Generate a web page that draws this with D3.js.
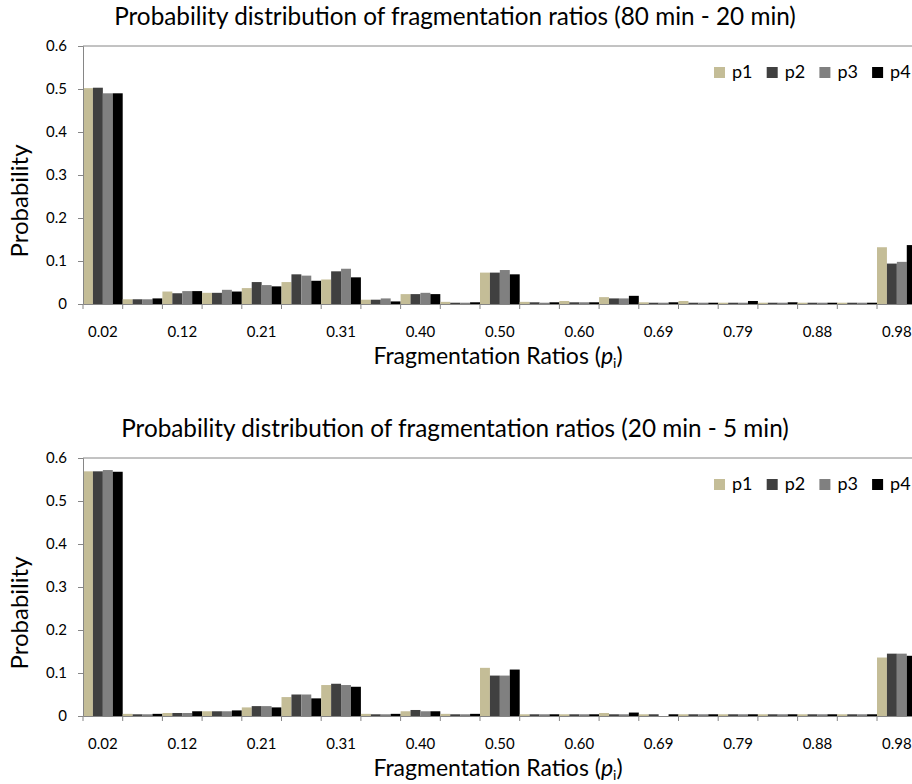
<!DOCTYPE html>
<html>
<head>
<meta charset="utf-8">
<script src="https://cdn.jsdelivr.net/npm/d3@7"></script>
<style>
  body { margin: 0; background: #fff; }
  svg { display: block; font-family: Lato, "Open Sans", sans-serif; }
</style>
</head>
<body>
<div id="chart"></div>
<script>
// fragmentation ratio bins (only every other one gets a label)
let categories = ["0.02", "0.07", "0.12", "0.17", "0.21", "0.26", "0.31", "0.36", "0.40", "0.45",
                  "0.50", "0.55", "0.60", "0.64", "0.69", "0.74", "0.79", "0.83", "0.88", "0.93", "0.98"];
let seriesNames = ["p1", "p2", "p3", "p4"];
let colors = ["#c4bd97", "#404040", "#808080", "#000000"];
let yTicks = [0, 0.1, 0.2, 0.3, 0.4, 0.5, 0.6];

// 80 min - 20 min
let topP1 = [0.502, 0.011, 0.029, 0.026, 0.037, 0.051, 0.057, 0.010, 0.023, 0.005, 0.073, 0.005, 0.007, 0.016, 0.004, 0.007, 0.003, 0.003, 0.003, 0.003, 0.132];
let topP2 = [0.503, 0.011, 0.025, 0.026, 0.051, 0.069, 0.076, 0.010, 0.023, 0.003, 0.073, 0.004, 0.004, 0.013, 0.003, 0.003, 0.003, 0.003, 0.003, 0.003, 0.094];
let topP3 = [0.490, 0.011, 0.030, 0.033, 0.044, 0.066, 0.082, 0.013, 0.026, 0.003, 0.079, 0.003, 0.004, 0.013, 0.003, 0.003, 0.003, 0.003, 0.003, 0.003, 0.098];
let topP4 = [0.490, 0.013, 0.030, 0.029, 0.041, 0.054, 0.062, 0.006, 0.023, 0.004, 0.069, 0.004, 0.004, 0.019, 0.004, 0.003, 0.007, 0.004, 0.003, 0.003, 0.137];

// 20 min - 5 min
let botP1 = [0.569, 0.005, 0.007, 0.011, 0.020, 0.044, 0.072, 0.005, 0.011, 0.005, 0.112, 0.004, 0.004, 0.007, 0.004, 0.004, 0.004, 0.004, 0.004, 0.004, 0.136];
let botP2 = [0.569, 0.004, 0.007, 0.011, 0.023, 0.050, 0.075, 0.004, 0.014, 0.004, 0.094, 0.004, 0.004, 0.004, 0.004, 0.004, 0.004, 0.004, 0.004, 0.004, 0.145];
let botP3 = [0.572, 0.004, 0.007, 0.011, 0.023, 0.050, 0.072, 0.004, 0.011, 0.004, 0.094, 0.004, 0.004, 0.004, 0.000, 0.004, 0.004, 0.004, 0.004, 0.004, 0.145];
let botP4 = [0.568, 0.005, 0.011, 0.013, 0.020, 0.041, 0.068, 0.005, 0.011, 0.005, 0.108, 0.004, 0.004, 0.008, 0.004, 0.004, 0.004, 0.004, 0.004, 0.004, 0.140];

let svgWidth = 912;
let svgHeight = 784;
let axisColor = "#868686";

let svg = d3.select("#chart")
    .append("svg")
    .attr("width", svgWidth)
    .attr("height", svgHeight);

function drawPanel(offsetY, title, series) {

    let panel = svg.append("g")
        .attr("transform", `translate(0, ${offsetY})`);

    // plot runs a bit past the right edge, like the original crop
    let x = d3.scaleBand()
        .domain(categories)
        .range([83, 83 + categories.length * 39.7])
        .padding(0);

    let xInner = d3.scaleBand()
        .domain(seriesNames)
        .range([0, x.bandwidth()])
        .padding(0);

    let y = d3.scaleLinear()
        .domain([0, 0.6])
        .range([304, 46]);

    let bars = [];
    categories.forEach(function(c, i) {
        seriesNames.forEach(function(s, j) {
            bars.push({cat: c, name: s, value: series[j][i], color: colors[j]});
        });
    });

    panel.append("g")
        .selectAll("rect")
        .data(bars)
        .enter()
        .append("rect")
        .attr("x", d => x(d.cat) + xInner(d.name))
        .attr("y", d => y(d.value))
        .attr("width", xInner.bandwidth())
        .attr("height", d => y(0) - y(d.value))
        .attr("fill", d => d.color);

    // top border of the plot area
    panel.append("line")
        .attr("x1", x.range()[0])
        .attr("x2", x.range()[1])
        .attr("y1", y(0.6))
        .attr("y2", y(0.6))
        .attr("stroke", axisColor);

    let yAxis = d3.axisLeft(y)
        .tickValues(yTicks)
        .tickSize(5)
        .tickPadding(11)
        .tickFormat(d => d === 0 ? "0" : d3.format(".1f")(d));

    let yG = panel.append("g")
        .attr("transform", `translate(${x.range()[0]}, 0)`)
        .call(yAxis);

    let xAxis = d3.axisBottom(x)
        .tickValues(categories.filter((d, i) => i % 2 === 0))
        .tickSize(0)
        .tickSizeOuter(0)
        .tickPadding(22);

    let xG = panel.append("g")
        .attr("transform", `translate(0, ${y(0)})`)
        .call(xAxis);

    // tick marks sit between the bins
    xG.selectAll(".bin-tick")
        .data(categories)
        .enter()
        .append("line")
        .attr("class", "bin-tick")
        .attr("x1", d => x(d))
        .attr("x2", d => x(d))
        .attr("y1", 0)
        .attr("y2", 5)
        .attr("stroke", axisColor);

    [yG, xG].forEach(function(g) {
        g.select(".domain").attr("stroke", axisColor);
        g.selectAll(".tick line").attr("stroke", axisColor);
        g.selectAll(".tick text")
            .attr("fill", "#000")
            .attr("font-size", "15px")
            .attr("font-family", "Lato, sans-serif");
    });

    panel.append("text")
        .attr("x", 455)
        .attr("y", 25)
        .attr("text-anchor", "middle")
        .attr("font-size", "24.3px")
        .text(title);

    panel.append("text")
        .attr("transform", "translate(28, 201) rotate(-90)")
        .attr("text-anchor", "middle")
        .attr("font-size", "24px")
        .text("Probability");

    let xTitle = panel.append("text")
        .attr("x", 498)
        .attr("y", 364)
        .attr("text-anchor", "middle")
        .attr("font-size", "23px");
    xTitle.append("tspan").text("Fragmentation Ratios (");
    xTitle.append("tspan").attr("font-style", "italic").text("p");
    xTitle.append("tspan").attr("font-size", "14px").attr("dy", 4).text("i");
    xTitle.append("tspan").attr("dy", -4).text(")");

    let legend = panel.append("g")
        .selectAll("g")
        .data(seriesNames)
        .enter()
        .append("g")
        .attr("transform", (d, i) => `translate(${714 + i * 52.7}, 67)`);

    legend.append("rect")
        .attr("width", 11)
        .attr("height", 11)
        .attr("fill", (d, i) => colors[i]);

    legend.append("text")
        .attr("x", 18)
        .attr("y", 11)
        .attr("font-size", "18px")
        .text(d => d);
}

drawPanel(0, "Probability distribution of fragmentation ratios (80 min - 20 min)",
    [topP1, topP2, topP3, topP4]);
drawPanel(412, "Probability distribution of fragmentation ratios (20 min - 5 min)",
    [botP1, botP2, botP3, botP4]);
</script>
</body>
</html>
